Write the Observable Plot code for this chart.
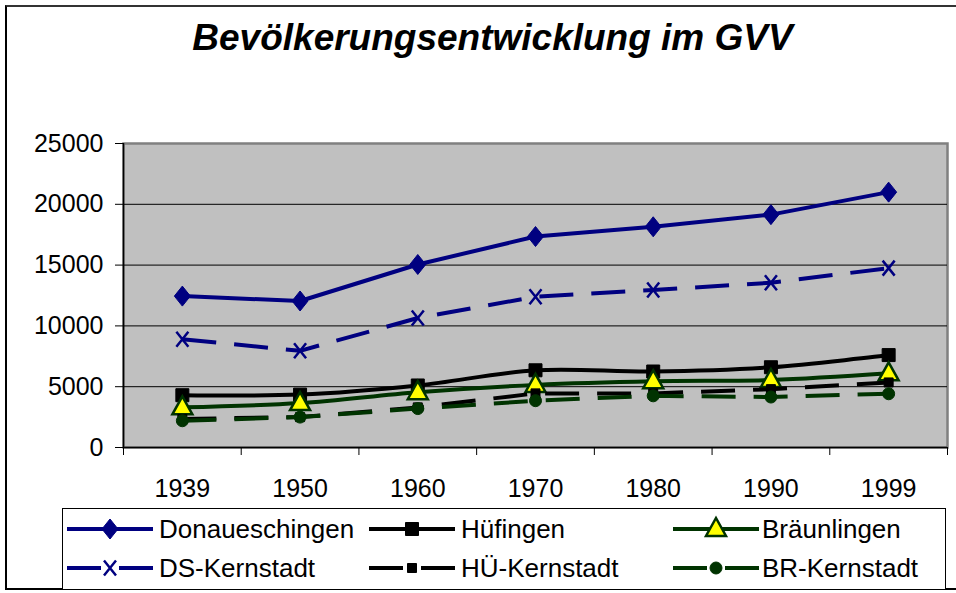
<!DOCTYPE html>
<html><head><meta charset="utf-8">
<script src="https://cdn.jsdelivr.net/npm/d3@7"></script>
<script src="https://cdn.jsdelivr.net/npm/@observablehq/plot@0.6"></script>
<style>
html,body{margin:0;padding:0;background:#fff;}
#wrap{position:relative;width:956px;height:593px;overflow:hidden;font-family:"Liberation Sans",Arial,sans-serif;color:#000;}
#wrap svg.plot{position:absolute;left:0;top:0;}
#outer{position:absolute;left:5px;top:5px;width:1000px;height:585px;box-sizing:border-box;border:2px solid #000;border-top-color:#333;}
#title{position:absolute;left:0;top:18.5px;width:985px;text-align:center;font-size:37px;line-height:37px;font-weight:bold;font-style:italic;white-space:nowrap;}
#legend{position:absolute;left:62px;top:508px;width:884px;height:82px;box-sizing:border-box;border:1.5px solid #000;background:#fff;}
.lg-sw{position:absolute;}
.lg-tx{position:absolute;font-size:26px;line-height:30px;height:30px;white-space:nowrap;}
</style></head>
<body><div id="wrap"><div id="outer"></div><div id="title"></div></div>
<script>
// ---- data ----
const titleText = "Bevölkerungsentwicklung im GVV";
const years = ["1939", "1950", "1960", "1970", "1980", "1990", "1999"];
const seriesNames = ["Donaueschingen", "Hüfingen", "Bräunlingen", "DS-Kernstadt", "HÜ-Kernstadt", "BR-Kernstadt"];
const donaueschingen = [12450, 12050, 15050, 17350, 18150, 19150, 21000];
const huefingen      = [4300, 4350, 5100, 6350, 6250, 6600, 7600];
const braeunlingen   = [3300, 3650, 4550, 5150, 5450, 5550, 6100];
const dsKernstadt    = [8900, 7950, 10650, 12400, 12950, 13550, 14750];
const hueKernstadt   = [2350, 2500, 3300, 4450, 4450, 4800, 5350];
const brKernstadt    = [2200, 2500, 3200, 3850, 4250, 4150, 4420];
const yTicks = [0, 5000, 10000, 15000, 20000, 25000];
const gridValues = [5000, 10000, 15000, 20000];

const seriesValues = [donaueschingen, huefingen, braeunlingen, dsKernstadt, hueKernstadt, brKernstadt];

// ---- marker shapes ----
const sym = {
  diamond: {draw(c) { c.moveTo(0, -10); c.lineTo(8, 0); c.lineTo(0, 10); c.lineTo(-8, 0); c.closePath(); }},
  square:  {draw(c) { c.rect(-6.5, -6.5, 13, 13); }},
  triangle:{draw(c) { c.moveTo(0, -11); c.lineTo(10, 7); c.lineTo(-10, 7); c.closePath(); }},
  cross:   {draw(c) { c.moveTo(-6, -7.5); c.lineTo(6, 7.5); c.moveTo(6, -7.5); c.lineTo(-6, 7.5); }},
  smallSq: {draw(c) { c.rect(-4.5, -4.5, 9, 9); }},
  circle:  {draw(c) { c.moveTo(6, 0); c.arc(0, 0, 6, 0, 2 * Math.PI); c.closePath(); }}
};

const styles = [
  {stroke: "#000080", dash: null, curve: "linear", symbol: sym.diamond, fill: "#000080", mStroke: "#000080", mWidth: 1},
  {stroke: "#000000", dash: null, curve: "catmull-rom", symbol: sym.square, fill: "#000000", mStroke: "#000000", mWidth: 1},
  {stroke: "#003300", dash: null, curve: "catmull-rom", symbol: sym.triangle, fill: "#ffff00", mStroke: "#003300", mWidth: 2.5},
  {stroke: "#000080", dash: "34,18", curve: "linear", symbol: sym.cross, fill: "none", mStroke: "#000080", mWidth: 2.5},
  {stroke: "#000000", dash: "34,18", curve: "linear", symbol: sym.smallSq, fill: "#000000", mStroke: "#000000", mWidth: 1},
  {stroke: "#003300", dash: "34,18", curve: "linear", symbol: sym.circle, fill: "#003300", mStroke: "#003300", mWidth: 1}
];

const rows = [];
seriesNames.forEach((name, s) => seriesValues[s].forEach((v, i) => rows.push({series: name, s, i, year: years[i], value: v})));

const seriesMarks = [];
seriesNames.forEach((name, s) => {
  const st = styles[s];
  const data = rows.filter(d => d.s === s);
  seriesMarks.push(Plot.line(data, {
    x: "i", y: "value", stroke: st.stroke, strokeWidth: 4, curve: st.curve,
    strokeDasharray: st.dash || undefined, strokeLinecap: st.dash ? "butt" : "round", strokeLinejoin: "round"
  }));
  seriesMarks.push(Plot.dot(data, {
    x: "i", y: "value", symbol: st.symbol, fill: st.fill, stroke: st.mStroke, strokeWidth: st.mWidth, r: 5
  }));
});

const chart = Plot.plot({
  width: 956, height: 593,
  marginLeft: 123, marginRight: 9, marginTop: 143, marginBottom: 146,
  style: {background: "transparent", fontFamily: "'Liberation Sans', Arial, sans-serif", fontSize: "25px", color: "#000", overflow: "visible"},
  x: {type: "linear", domain: [-0.5, years.length - 0.5], axis: null, label: null},
  y: {domain: [0, 25000], axis: null, label: null},
  marks: [
    Plot.frame({fill: "#c0c0c0", stroke: "#808080", strokeWidth: 2.5}),
    Plot.ruleY(gridValues, {stroke: "#000", strokeWidth: 1}),
    Plot.ruleY([0], {stroke: "#000", strokeWidth: 1.5}),
    Plot.ruleX([-0.5], {stroke: "#000", strokeWidth: 1.5}),
    Plot.axisY({ticks: yTicks, tickSize: 8, tickPadding: 12, tickFormat: d3.format("d"), fontSize: 25, label: null}),
    Plot.axisX({ticks: d3.range(-0.5, years.length, 1), tickSize: 8, tickFormat: () => "", label: null}),
    Plot.axisX({ticks: d3.range(years.length), tickSize: 0, tickPadding: 32, tickFormat: i => years[i], fontSize: 25, label: null}),
    ...seriesMarks
  ]
});
chart.classList.add("plot");
const wrap = document.getElementById("wrap");
wrap.insertBefore(chart, document.getElementById("outer"));
document.getElementById("title").textContent = titleText;

// ---- legend ----
const legend = document.createElement("div");
legend.id = "legend";
wrap.appendChild(legend);
const colLine = [4, 306, 610];   // relative to legend box
const colText = [96, 398, 699];
const rowY = [20, 59];
seriesNames.forEach((name, s) => {
  const st = styles[s];
  const col = s % 3, row = Math.floor(s / 3);
  const ns = "http://www.w3.org/2000/svg";
  const svg = document.createElementNS(ns, "svg");
  svg.setAttribute("width", 88); svg.setAttribute("height", 30);
  svg.setAttribute("class", "lg-sw");
  svg.style.left = colLine[col] + "px"; svg.style.top = (rowY[row] - 15) + "px";
  const ln = document.createElementNS(ns, "line");
  ln.setAttribute("x1", 0); ln.setAttribute("x2", 86); ln.setAttribute("y1", 15); ln.setAttribute("y2", 15);
  ln.setAttribute("stroke", st.stroke); ln.setAttribute("stroke-width", 4);
  if (st.dash) ln.setAttribute("stroke-dasharray", "34,18");
  svg.appendChild(ln);
  const p = d3.path(); st.symbol.draw(p);
  const mk = document.createElementNS(ns, "path");
  mk.setAttribute("d", p.toString());
  mk.setAttribute("transform", "translate(43,15)");
  mk.setAttribute("fill", st.fill); mk.setAttribute("stroke", st.mStroke); mk.setAttribute("stroke-width", st.mWidth);
  svg.appendChild(mk);
  legend.appendChild(svg);
  const tx = document.createElement("div");
  tx.className = "lg-tx";
  tx.style.left = colText[col] + "px"; tx.style.top = (rowY[row] - 15) + "px";
  tx.textContent = name;
  legend.appendChild(tx);
});
</script>
</body></html>
